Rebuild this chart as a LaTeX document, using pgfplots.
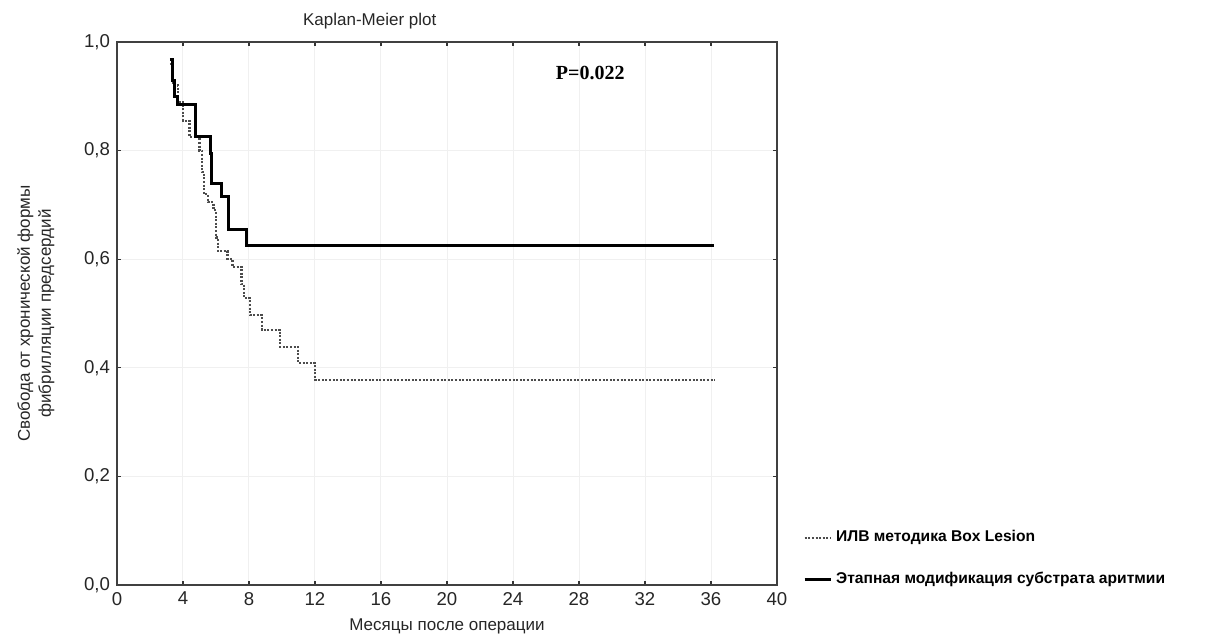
\documentclass[border=0pt]{standalone}
\usepackage{fontspec}
\setmainfont{Liberation Sans}
\newfontfamily\seriffont{Liberation Serif}
\usepackage{pgfplots}
\pgfplotsset{compat=1.18}
\begin{document}
\begin{tikzpicture}[x=1pt,y=1pt]
\useasboundingbox (-58.5,-27) rectangle (544.5,292.5);
\begin{axis}[
  at={(0,0)}, anchor=south west,
  scale only axis, width=330pt, height=271.5pt,
  xmin=0, xmax=40, ymin=0, ymax=1,
  xtick={0,4,8,12,16,20,24,28,32,36,40},
  ytick={0,0.2,0.4,0.6,0.8,1.0},
  yticklabel style={/pgf/number format/.cd, fixed, fixed zerofill, precision=1, use comma},
  /pgf/number format/assume math mode=true,
  tick align=inside, major tick length=2pt,
  tick style={black!80, line width=0.6pt},
  axis line style={line width=0.8pt, black!75},
  grid=major, grid style={gray!12, line width=0.5pt},
  tick label style={font=\fontsize{9.3}{10}\selectfont, black!85},
  xlabel={Месяцы после операции},
  ylabel={Свобода от хронической формы\\фибрилляции предсердий},
  ylabel style={align=center, yshift=8pt},
  label style={font=\fontsize{8.5}{10.5}\selectfont, black!85},
  legend style={at={(1.03,-0.018)}, anchor=south west, draw=none, fill=none,
    font=\bfseries\fontsize{7.8}{9}\selectfont, row sep=9.5pt},
  legend cell align=left,
  legend image code/.code={\draw[#1] (0pt,0pt) -- (13pt,0pt);},
  clip=false,
]
\addplot[const plot, black!70, line width=1.1pt, dash pattern=on 1pt off 0.8pt] coordinates {
(3.2,0.96) (3.4,0.92) (3.7,0.89) (4.0,0.855) (4.4,0.825) (5.0,0.80) (5.15,0.76)
(5.25,0.72) (5.5,0.705) (5.85,0.69) (6.0,0.64) (6.1,0.615) (6.7,0.60) (7.0,0.586)
(7.55,0.555) (7.7,0.528) (8.06,0.497) (8.77,0.47) (9.88,0.439) (10.97,0.409)
(12.0,0.378) (36.2,0.378)};
\addlegendentry{ИЛВ методика Box Lesion}
\addplot[const plot, black, line width=1.5pt] coordinates {
(3.2,0.967) (3.35,0.93) (3.5,0.90) (3.65,0.884) (4.73,0.826) (5.64,0.795) (5.75,0.74)
(6.34,0.715) (6.75,0.654) (7.86,0.626) (36.2,0.626)};
\addlegendentry{Этапная модификация субстрата аритмии}
\node[font=\fontsize{8.5}{10}\selectfont, black!85] at (rel axis cs:0.383,1) [yshift=10.5pt] {Kaplan-Meier plot};
\node[font=\seriffont\bfseries\fontsize{10}{12}\selectfont] at (rel axis cs:0.717,0.943) {P=0.022};
\end{axis}
\end{tikzpicture}
\end{document}
